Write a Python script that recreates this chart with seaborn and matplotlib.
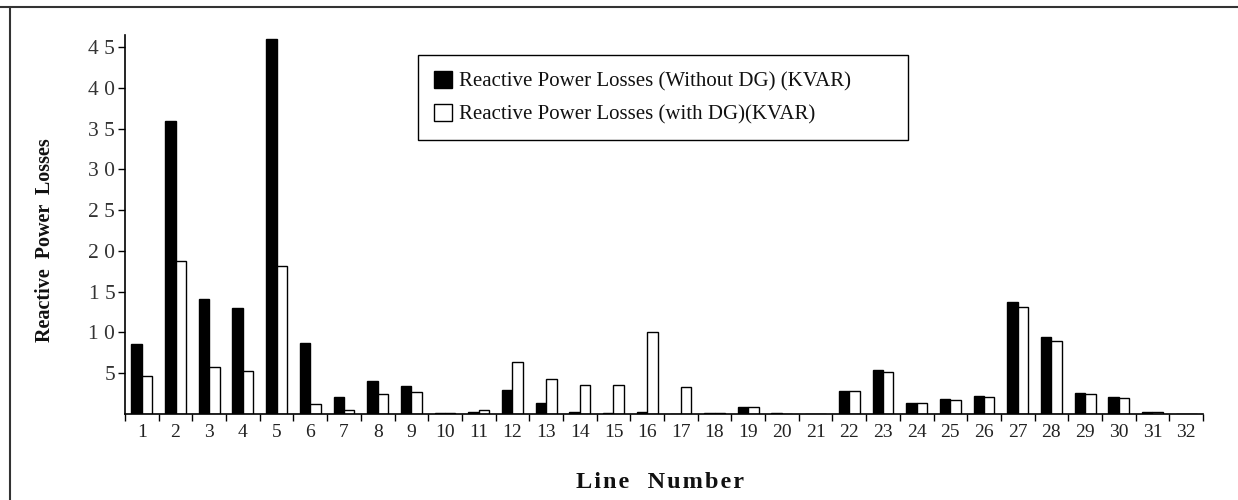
import matplotlib
matplotlib.use("Agg")
import matplotlib.pyplot as plt
import seaborn as sns
import pandas as pd
from matplotlib.patches import Patch
from matplotlib.lines import Line2D

line_numbers = [str(i) for i in range(1, 33)]
without_dg = [8.6, 36.0, 14.1, 13.0, 46.0, 8.7, 2.1, 4.1, 3.4, 0.1,
              0.3, 2.9, 1.3, 0.3, 0.1, 0.3, 0.0, 0.1, 0.9, 0.1,
              0.0, 2.8, 5.4, 1.3, 1.8, 2.2, 13.7, 9.4, 2.6, 2.1,
              0.2, 0.0]
with_dg = [4.7, 18.8, 5.8, 5.3, 18.2, 1.2, 0.5, 2.4, 2.7, 0.1,
           0.5, 6.4, 4.3, 3.6, 3.6, 10.0, 3.3, 0.1, 0.9, 0.0,
           0.0, 2.8, 5.2, 1.3, 1.7, 2.1, 13.1, 8.9, 2.5, 2.0,
           0.3, 0.0]
series_names = ["Reactive Power Losses (Without DG) (KVAR)",
                "Reactive Power Losses (with DG)(KVAR)"]
y_ticks = [5, 10, 15, 20, 25, 30, 35, 40, 45]
y_tick_labels = ["5", "1 0", "1 5", "2 0", "2 5", "3 0", "3 5", "4 0", "4 5"]

df = pd.DataFrame({
    "line": line_numbers * 2,
    "value": without_dg + with_dg,
    "series": [series_names[0]] * 32 + [series_names[1]] * 32,
})

sns.set_theme(style="white")
plt.rcParams["font.family"] = ["Liberation Serif", "DejaVu Serif"]

fig = plt.figure(figsize=(12.38, 5.0), dpi=100)
ax = fig.add_axes([125 / 1238, 1 - 414 / 500, (1203 - 125) / 1238, (414 - 35) / 500])

sns.barplot(data=df, x="line", y="value", hue="series", order=line_numbers,
            hue_order=series_names, palette=["black", "white"],
            edgecolor="black", linewidth=1.0, width=0.62, ax=ax,
            legend=False, errorbar=None, saturation=1)

ax.set_xlim(-0.5, 31.5)
ax.set_ylim(0, 46.5)
for s in ["top", "right"]:
    ax.spines[s].set_visible(False)
ax.spines["left"].set_color("black")
ax.spines["bottom"].set_color("black")
ax.spines["left"].set_linewidth(1.2)
ax.spines["bottom"].set_linewidth(1.2)

ax.set_yticks(y_ticks)
ax.set_yticklabels(y_tick_labels, fontsize=15.5, color="#333333")
ax.tick_params(axis="y", direction="out", length=5, width=1.0, color="black", pad=2, left=True)

ax.set_xticks(range(32))
ax.set_xticklabels(line_numbers, fontsize=14, color="#222222")
ax.tick_params(axis="x", which="major", length=0, pad=7)
ax.set_xticks([i - 0.5 for i in range(33)], minor=True)
ax.tick_params(axis="x", which="minor", direction="out", length=5, width=1.0, color="black", bottom=True)

ax.set_xlabel("")
ax.set_ylabel("")
xlabel_text = "\u200a".join("Line") + "   " + "\u200a".join("Number")
fig.text(660 / 1238, 1 - 483 / 500, xlabel_text, ha="center", va="center",
         fontsize=17.5, fontweight="bold", color="#111111")
fig.text(45 / 1238, 1 - 240 / 500, "Reactive  Power  Losses",
         ha="center", va="center", rotation=90, fontsize=14.5, fontweight="bold",
         color="#111111")

handles = [Patch(facecolor="black", edgecolor="black"),
           Patch(facecolor="white", edgecolor="black")]
leg = fig.legend(handles, series_names, loc="upper left",
                 bbox_to_anchor=(418 / 1238, 1 - 55 / 500, (908 - 418) / 1238, 0),
                 mode="expand",
                 fontsize=15, frameon=True, fancybox=False, framealpha=1,
                 edgecolor="black", handlelength=0.9, handleheight=0.9,
                 handletextpad=0.3, borderpad=0.75, labelspacing=0.6,
                 borderaxespad=0)
leg.get_frame().set_linewidth(1.0)
for t in leg.get_texts():
    t.set_color("#111111")

# outer frame lines (top and left)
fig.add_artist(Line2D([0, 1], [1 - 7 / 500, 1 - 7 / 500], transform=fig.transFigure,
                      color="#333333", linewidth=1.5))
fig.add_artist(Line2D([10 / 1238, 10 / 1238], [0, 1 - 7 / 500], transform=fig.transFigure,
                      color="#333333", linewidth=1.5))

fig.savefig("out.png", dpi=100, facecolor="white")
